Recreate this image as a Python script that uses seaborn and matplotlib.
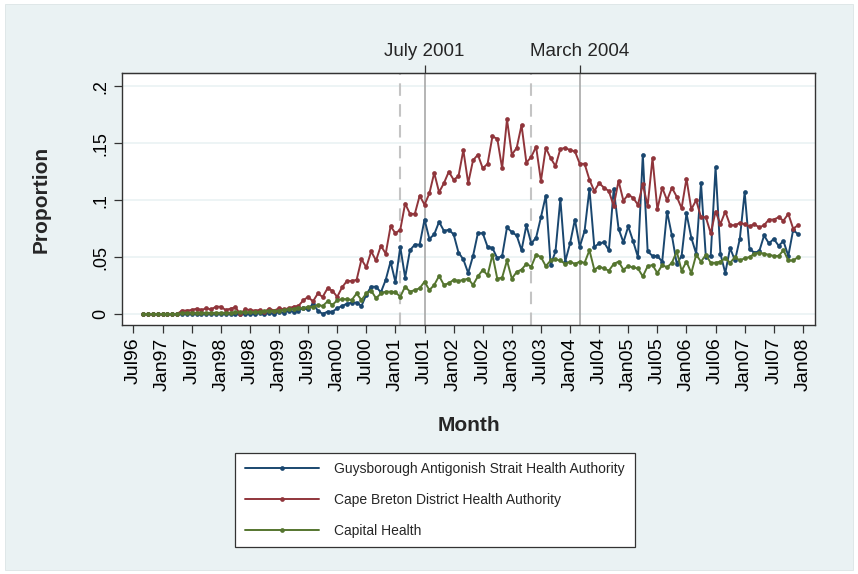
import numpy as np
import pandas as pd
import matplotlib
matplotlib.use("Agg")
import matplotlib.pyplot as plt
from matplotlib.patches import Rectangle
import seaborn as sns

# Monthly proportions, Sep 1996 - Dec 2007 (first row: Sep-Dec 1996, then Jan-Dec per year)
guysborough = [
    0, 0, 0, 0,
    0, 0, 0, 0, 0, 0, 0, 0, 0, 0, 0, 0,
    0, 0, 0, 0, 0, 0, 0, 0, .001, 0, .001, 0,
    .002, .001, .003, .002, .003, .005, .004, .009, .003, 0, .002, .002,
    .005, .007, .009, .010, .010, .007, .017, .024, .024, .019, .030, .046,
    .028, .059, .032, .056, .061, .061, .083, .066, .070, .081, .073, .074,
    .070, .054, .048, .036, .051, .071, .071, .059, .058, .049, .051, .076,
    .072, .069, .056, .078, .062, .067, .085, .104, .043, .055, .101, .046,
    .062, .083, .059, .073, .110, .059, .062, .063, .056, .110, .075, .063,
    .077, .064, .050, .140, .055, .051, .051, .046, .090, .069, .044, .051,
    .0885, .067, .053, .115, .050, .051, .129, .053, .036, .058, .047, .066,
    .107, .057, .054, .055, .069, .062, .066, .060, .064, .051, .074, .070,
]
cape_breton = [
    0, 0, 0, 0,
    0, 0, 0, 0, .003, .003, .0035, .0047, .0035, .005, .004, .0064,
    .0064, .0035, .0047, .0059, 0, .004, .0035, .003, .0035, .002, .0047, .003,
    .005, .004, .005, .0064, .007, .012, .015, .011, .018, .015, .0225, .0205,
    .015, .0234, .029, .029, .030, .048, .041, .055, .047, .060, .053, .077,
    .071, .074, .097, .088, .088, .104, .096, .106, .124, .107, .115, .125,
    .118, .121, .144, .115, .135, .140, .128, .132, .156, .154, .128, .171,
    .140, .146, .166, .133, .138, .147, .117, .146, .137, .130, .145, .146,
    .144, .143, .132, .132, .118, .108, .115, .111, .108, .095, .117, .0995,
    .105, .102, .096, .114, .095, .137, .092, .111, .100, .111, .103, .093,
    .119, .092, .100, .085, .085, .071, .090, .079, .090, .078, .078, .080,
    .079, .077, .079, .076, .078, .083, .083, .085, .082, .088, .075, .078,
]
capital = [
    0, 0, 0, 0,
    0, 0, 0, 0, .001, .001, .001, .001, .001, .001, .001, .001,
    .001, .001, .001, .0015, .0015, .0015, .0015, .0015, .002, .0025, .003, .0025,
    .003, .0035, .004, .0045, .005, .005, .0065, .006, .008, .007, .011, .008,
    .012, .013, .013, .0123, .018, .0123, .018, .0205, .0138, .018, .0196, .0196,
    .019, .0152, .024, .0196, .021, .0226, .0284, .021, .0255, .0334, .0255, .027,
    .030, .029, .030, .031, .0255, .033, .0387, .034, .052, .031, .032, .047,
    .031, .037, .039, .044, .0416, .052, .050, .042, .047, .048, .047, .044,
    .046, .044, .046, .045, .056, .039, .0416, .040, .038, .044, .046, .039,
    .042, .041, .040, .033, .042, .043, .036, .043, .041, .045, .055, .038,
    .046, .036, .052, .046, .052, .045, .045, .046, .049, .045, .050, .047,
    .049, .050, .053, .054, .053, .052, .051, .051, .056, .047, .047, .050,
]

series_names = [
    "Guysborough Antigonish Strait Health Authority",
    "Cape Breton District Health Authority",
    "Capital Health",
]
series_colors = ["#1A476F", "#90353B", "#55752F"]

months = pd.period_range("1996-09", "2007-12", freq="M")
tick_months = pd.period_range("1996-07", "2008-01", freq="M")[::6]
tick_labels = [p.strftime("%b%y") for p in tick_months]

event_months = [pd.Period("2001-07", "M"), pd.Period("2004-03", "M")]
event_labels = ["July 2001", "March 2004"]
lead_months = [pd.Period("2001-02", "M"), pd.Period("2003-05", "M")]


def month_index(periods):
    # months elapsed since July 1996
    return [(p.year - 1996) * 12 + p.month - 7 for p in periods]


x = month_index(months)
df = pd.concat(
    [pd.DataFrame({"month": x, "proportion": vals, "region": name})
     for name, vals in zip(series_names, [guysborough, cape_breton, capital])],
    ignore_index=True,
)

sns.set_style("white")
plt.rcParams["font.family"] = ["Liberation Sans", "DejaVu Sans"]

fig = plt.figure(figsize=(8.58, 5.74), dpi=100, facecolor="white")
fig.patches.append(Rectangle((5 / 858, 4 / 574), 848 / 858, 566 / 574,
                             transform=fig.transFigure, facecolor="#EAF2F3",
                             edgecolor="#DCE4E6", lw=0.6, zorder=-10))

ax = fig.add_axes([122 / 858, 1 - 325 / 574, 693 / 858, 252 / 574])
ax.set_facecolor("white")

for xv in month_index(lead_months):
    ax.axvline(xv, color="#C4C4C4", lw=1.5, dashes=(6, 4), zorder=1)
for xv in month_index(event_months):
    ax.axvline(xv, color="#A8A8A8", lw=1.2, zorder=1)

sns.lineplot(data=df, x="month", y="proportion", hue="region",
             hue_order=series_names, palette=series_colors,
             estimator=None, marker="o", markersize=3.4, markeredgewidth=0,
             linewidth=1.4, ax=ax, zorder=3)

ax.set_xlim(-2.37, 140.5)
ax.set_ylim(-0.0097, 0.2118)

yt = [0, .05, .1, .15, .2]
ax.set_yticks(yt)
ax.set_yticklabels(["0", ".05", ".1", ".15", ".2"], rotation=90, va="center",
                   fontsize=13)
ax.set_xticks(month_index(tick_months))
ax.set_xticklabels(tick_labels, rotation=90, fontsize=14)
ax.tick_params(axis="both", direction="out", length=6, width=0.9,
               color="#333333", labelcolor="black", pad=3)
ax.tick_params(axis="x", bottom=True)
ax.tick_params(axis="y", left=True)

ax.yaxis.grid(True, color="#EAF2F3", lw=1.2)
ax.xaxis.grid(False)
ax.set_axisbelow(True)

for sp in ax.spines.values():
    sp.set_visible(True)
    sp.set_color("#333333")
    sp.set_linewidth(1.0)

ax.set_xlabel("Month", fontsize=15, fontweight="bold", labelpad=18)
ax.set_ylabel("Proportion", fontsize=15, fontweight="bold", labelpad=30)

top = ax.secondary_xaxis("top")
top.set_xticks(month_index(event_months))
top.set_xticklabels(event_labels, fontsize=13.5)
top.tick_params(direction="out", length=6, width=0.9, color="#333333", pad=3)

handles, labels = ax.get_legend_handles_labels()
ax.get_legend().remove()
leg = fig.legend(handles, labels, loc="center",
                 bbox_to_anchor=(435 / 858, 1 - 500 / 574),
                 frameon=True, fancybox=False, edgecolor="#333333",
                 facecolor="white", framealpha=1, fontsize=10,
                 handlelength=5.3, handletextpad=1.15, labelspacing=1.2,
                 borderpad=0.7, borderaxespad=0, numpoints=1)
leg.get_frame().set_linewidth(0.9)

fig.savefig("out.png", dpi=100, facecolor=fig.get_facecolor())
